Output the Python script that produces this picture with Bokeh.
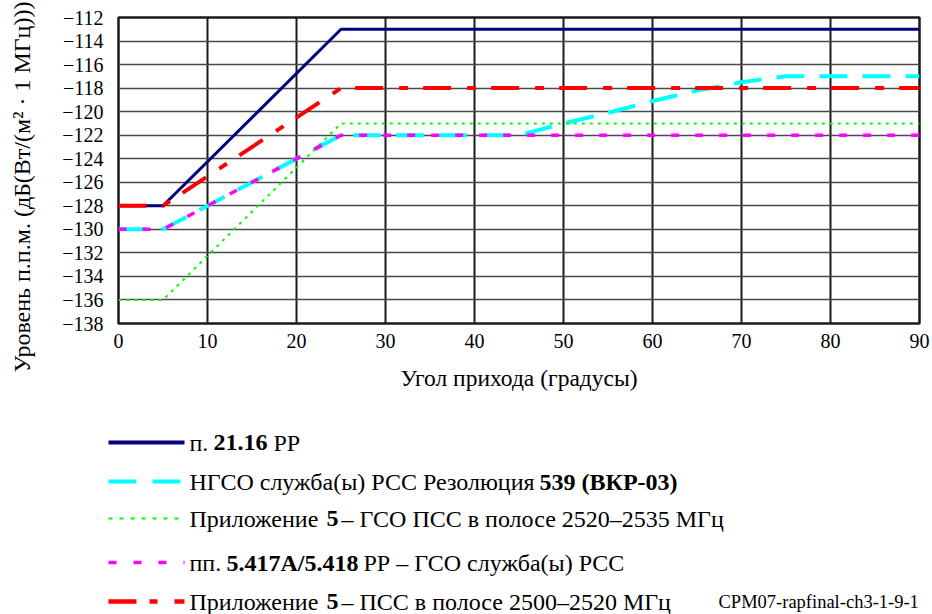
from bokeh.plotting import figure
from bokeh.models import Range1d, FixedTicker, Title
from bokeh.layouts import column, row
from bokeh.core.properties import value
from bokeh.embed import file_html
from bokeh.resources import INLINE

# ---------------- data ----------------
ang_2116 = [0, 5, 25, 90]
pfd_2116 = [-128, -128, -113, -113]

ang_ngso = [0, 5, 25, 45, 50, 55, 60, 65, 70, 75, 90]
pfd_ngso = [-130, -130, -122, -122, -121, -120.1, -119.1, -118.2, -117.5, -117, -117]

ang_ap5_2520 = [0, 5, 25, 90]
pfd_ap5_2520 = [-136, -136, -121, -121]

ang_5417 = [0, 5, 25, 90]
pfd_5417 = [-130, -130, -122, -122]

ang_ap5_2500 = [0, 5, 25, 90]
pfd_ap5_2500 = [-128, -128, -118, -118]

x_ticks = [0, 10, 20, 30, 40, 50, 60, 70, 80, 90]
y_ticks = [-138, -136, -134, -132, -130, -128, -126, -124, -122, -120, -118, -116, -114, -112]
y_tick_labels = ["\u2212" + str(abs(v)) for v in y_ticks]

x_title = "Угол прихода (градусы)"
y_title = "Уровень п.п.м. (дБ(Вт/(м\u00b2 \u00b7 1 МГц)))"
credit = "CPM07-rapfinal-ch3-1-9-1"

FONT = "Liberation Serif"

# ---------------- main chart ----------------
p = figure(width=932, height=405, x_range=Range1d(0, 90), y_range=Range1d(-138, -112),
           output_backend="svg", toolbar_location=None,
           min_border_left=118, min_border_right=13, min_border_top=17, min_border_bottom=82)
p.background_fill_color = "white"
p.border_fill_color = "white"
p.outline_line_color = "#1a1a1a"
p.outline_line_width = 2.5

for ax in (p.xaxis[0], p.yaxis[0]):
    ax.axis_line_color = None
    ax.major_tick_line_color = None
    ax.minor_tick_line_color = None
    ax.major_tick_out = 0
    ax.major_tick_in = 0
    ax.minor_tick_out = 0
    ax.major_label_text_font = FONT
    ax.major_label_text_font_size = "20px"
    ax.major_label_text_color = "black"

p.xaxis.ticker = FixedTicker(ticks=x_ticks)
p.yaxis.ticker = FixedTicker(ticks=y_ticks)
p.yaxis.major_label_overrides = {v: s for v, s in zip(y_ticks, y_tick_labels)}
p.xaxis.major_label_standoff = 10
p.yaxis.major_label_standoff = 15
p.xaxis.axis_label = x_title
p.xaxis.axis_label_text_font = FONT
p.xaxis.axis_label_text_font_size = "23.5px"
p.xaxis.axis_label_text_font_style = "normal"
p.xaxis.axis_label_text_color = "black"
p.xaxis.axis_label_standoff = 14

p.xgrid.grid_line_color = "#1a1a1a"
p.xgrid.grid_line_width = 2
p.ygrid.grid_line_color = "#4a4a4a"
p.ygrid.grid_line_width = 1.5

p.line(ang_2116, pfd_2116, line_color="#000080", line_width=3)
p.line(ang_ngso, pfd_ngso, line_color="#00ffff", line_width=4, line_dash="28 15")
p.line(ang_ap5_2520, pfd_ap5_2520, line_color="#00ff00", line_width=2, line_dash="3 5")
p.line(ang_5417, pfd_5417, line_color="#ff00ff", line_width=3.5, line_dash="8 16")
p.line(ang_ap5_2500, pfd_ap5_2500, line_color="#ff0000", line_width=4, line_dash="28 16 9 15")

# spacer between tick labels and the vertical title, then the title itself
spacer = Title(text=" ", text_font_size="1px", standoff=22, text_color="white")
p.add_layout(spacer, "left")
ytitle = Title(text=y_title, align="left", offset=-49, standoff=0,
               text_font=FONT, text_font_size="24px", text_font_style="normal",
               text_color="black")
p.add_layout(ytitle, "left")

# ---------------- legend panel ----------------
top = 405
L = figure(width=932, height=614 - top, x_range=Range1d(0, 932), y_range=Range1d(614, top),
           output_backend="svg", toolbar_location=None, min_border=0)
L.axis.visible = False
L.grid.visible = False
L.outline_line_color = None
L.background_fill_color = "white"
L.border_fill_color = "white"

rows = [442, 481, 518, 562, 601]
x0, x1 = 108, 184
L.line([x0, x1], [rows[0]] * 2, line_color="#000080", line_width=4)
L.line([x0, x1], [rows[1]] * 2, line_color="#00ffff", line_width=4, line_dash="28 16")
L.line([x0, x1], [rows[2]] * 2, line_color="#00ff00", line_width=2, line_dash="4 7")
L.line([x0, x1], [rows[3]] * 2, line_color="#ff00ff", line_width=3.5, line_dash="8 17")
L.line([x0, x1], [rows[4]] * 2, line_color="#ff0000", line_width=4.5, line_dash="28 13 8 17")

normal_x = [189, 273, 189, 189, 341, 189, 363, 189, 341]
normal_y = [rows[0], rows[0], rows[1], rows[2], rows[2], rows[3], rows[3], rows[4], rows[4]]
normal_t = ["п.", "РР", "НГСО служба(ы) РСС Резолюция", "Приложение",
            "\u2013 ГСО ПСС в полосе 2520\u20132535 МГц", "пп.",
            "РР \u2013 ГСО служба(ы) РСС", "Приложение", "\u2013 ПСС в полосе 2500\u20132520 МГц"]
bold_x = [213, 539, 326, 226, 326]
bold_y = [rows[0], rows[1], rows[2], rows[3], rows[4]]
bold_t = ["21.16", "539 (ВКР-03)", "5", "5.417A/5.418", "5"]

L.text(x=normal_x, y=normal_y, text=normal_t, text_font=value(FONT), text_font_size="24px",
       text_baseline="middle", text_align="left", text_color="black")
L.text(x=bold_x, y=bold_y, text=bold_t, text_font=value(FONT), text_font_size="24px",
       text_font_style="bold", text_baseline="middle", text_align="left", text_color="black")
L.text(x=[718], y=[rows[4]], text=[credit], text_font=value(FONT), text_font_size="18.5px",
       text_baseline="middle", text_align="left", text_color="black")

layout = column(p, row(L), spacing=0)
open("out.html", "w").write(file_html(layout, INLINE))
